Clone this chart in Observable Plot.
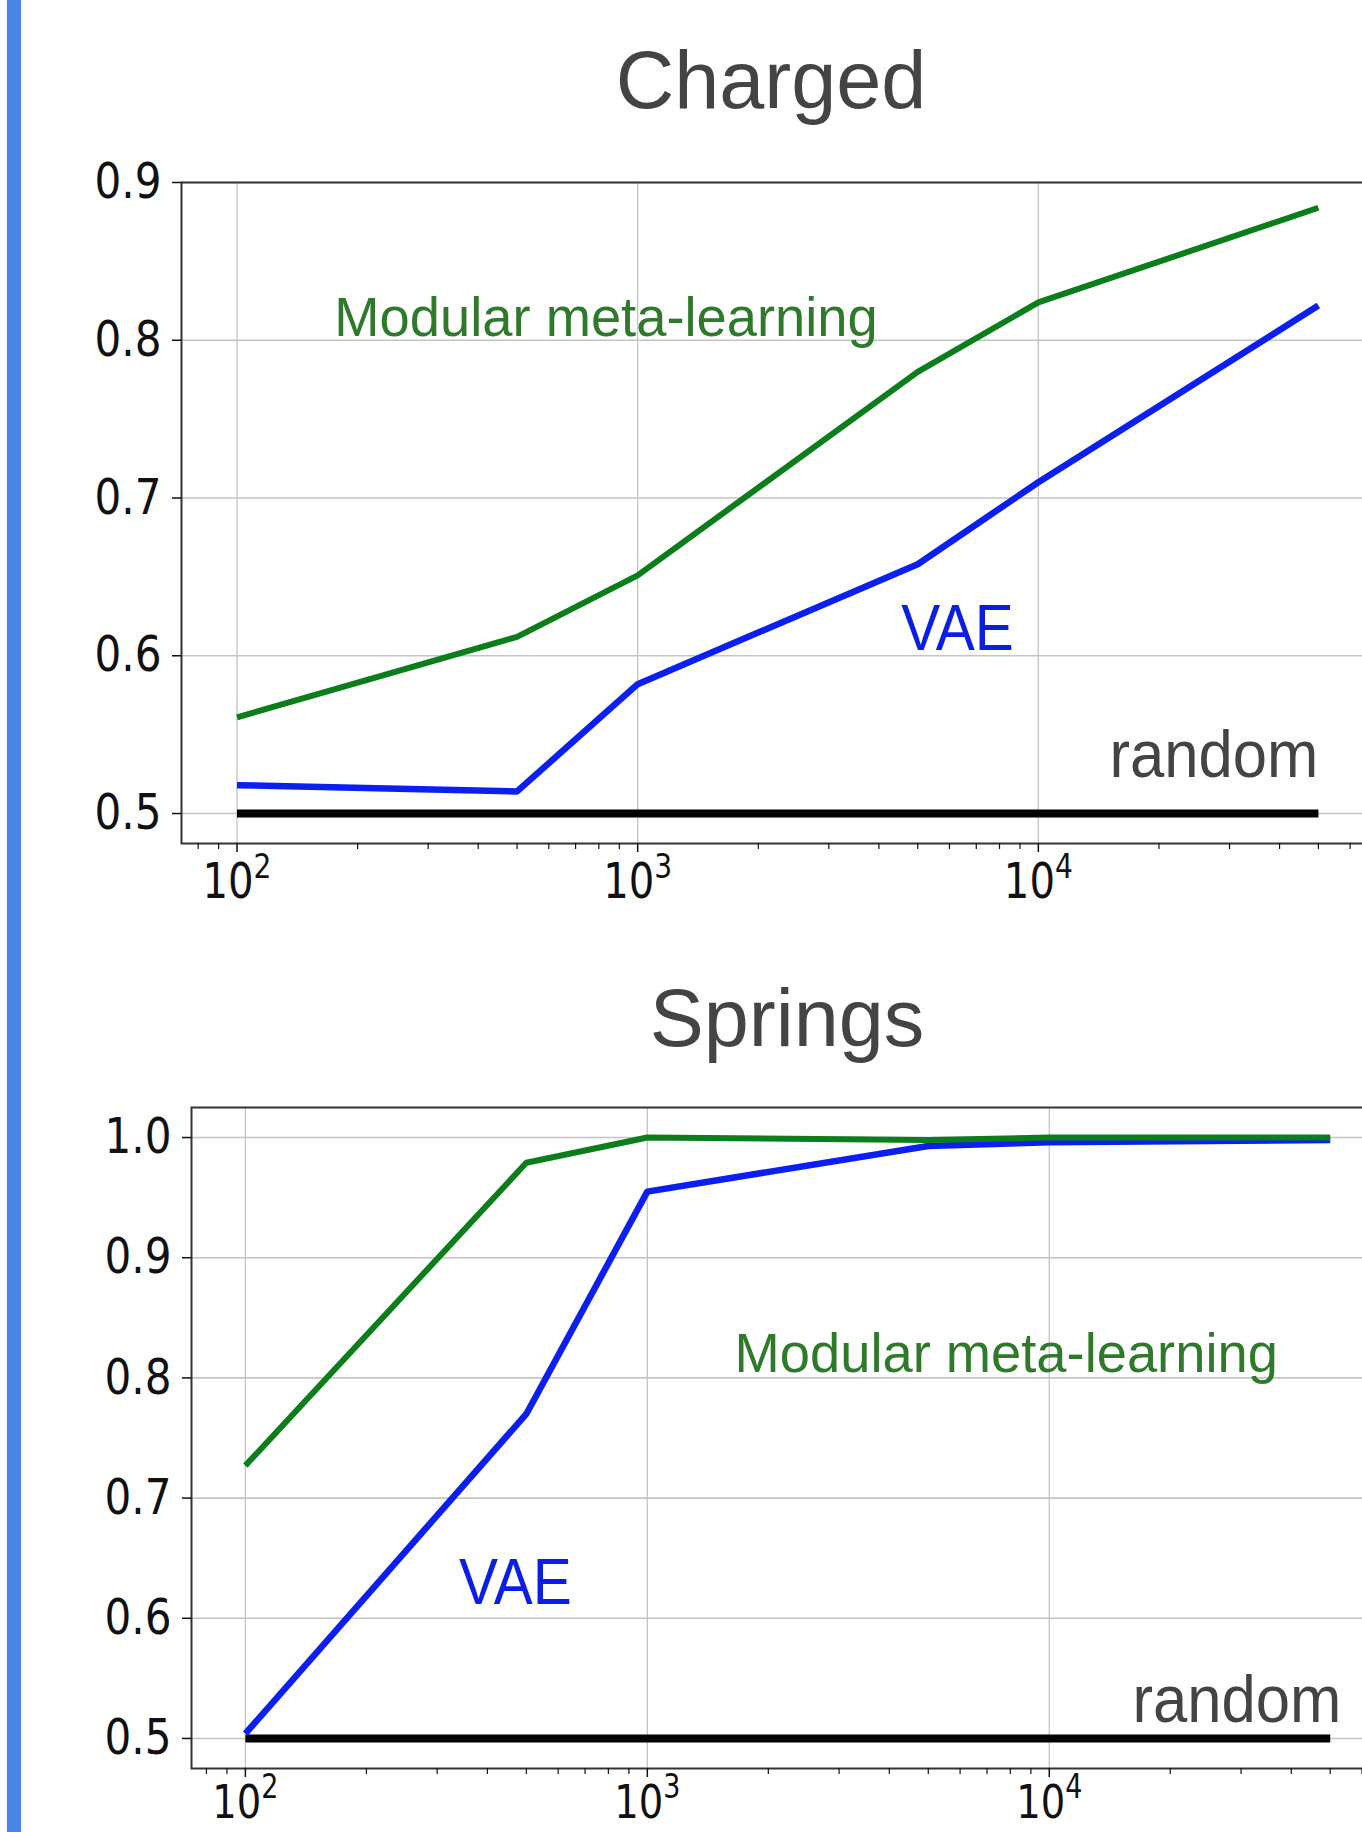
<!DOCTYPE html>
<html><head><meta charset="utf-8">
<script src="https://cdn.jsdelivr.net/npm/d3@7"></script>
<script src="https://cdn.jsdelivr.net/npm/@observablehq/plot@0.6"></script>
<style>
html,body{margin:0;padding:0;background:#fff;overflow:hidden;}
#page{position:relative;width:1362px;height:1832px;overflow:hidden;background:#fff;}
.bar{position:absolute;left:7px;top:0;width:14px;height:1832px;background:#4a86e8;}
.title{position:absolute;font-family:"Liberation Sans",Arial,sans-serif;font-size:81px;line-height:1;color:#444;white-space:nowrap;transform:translateX(-50%);}
.chart{position:absolute;left:0;width:1400px;}
.chart svg{max-width:none !important;}
</style></head>
<body><div id="page"><div class="bar"></div>
<div class="title" style="left:771px;top:40px">Charged</div>
<div class="title" style="left:787px;top:978px">Springs</div>
<div class="chart" id="c1" style="top:140px"></div>
<div class="chart" id="c2" style="top:1060px"></div>
</div>
<script>
// ---- data ----
const sampleSizes = [100, 500, 1000, 5000, 10000, 50000];
const xMajorTicks = [100, 1000, 10000];

const chargedModular = [0.561, 0.612, 0.651, 0.780, 0.824, 0.884];
const chargedVAE     = [0.518, 0.514, 0.582, 0.658, 0.710, 0.822];
const chargedRandom  = [0.5, 0.5, 0.5, 0.5, 0.5, 0.5];
const chargedYTicks  = [0.5, 0.6, 0.7, 0.8, 0.9];

const springsModular = [0.727, 0.979, 1.0, 0.998, 1.0, 1.0];
const springsVAE     = [0.504, 0.770, 0.955, 0.993, 0.996, 0.998];
const springsRandom  = [0.5, 0.5, 0.5, 0.5, 0.5, 0.5];
const springsYTicks  = [0.5, 0.6, 0.7, 0.8, 0.9, 1.0];

const labelTexts = ["Modular meta-learning", "VAE", "random"];
const chargedLabelN = [175, 4546, 50000];
const chargedLabelV = [0.803, 0.6035, 0.523];
const springsLabelN = [1648, 340, 53300];
const springsLabelV = [0.805, 0.6116, 0.514];

// ---- drawing ----
const GREEN = "#0b7d1a", BLUE = "#0b1ff0", LGREEN = "#2f7a2a", LBLUE = "#0a1ee6";
const ns = "http://www.w3.org/2000/svg";

function squeeze(t, sx) {
  const tr = t.getAttribute("transform") || "";
  t.setAttribute("transform", tr + ` scale(${sx},1)`);
}

function makeChart(cfg) {
  const rows = vals => sampleSizes.map((n, i) => ({n, v: vals[i]}));
  const xd = cfg.xLog.map(e => 10 ** e);
  const minor = [];
  for (let k = 1; k <= 4; k++) for (let m = 2; m <= 9; m++) {
    const v = m * 10 ** k; if (v > xd[0] && v < xd[1]) minor.push(v);
  }
  const lab = i => [{n: cfg.labelN[i], v: cfg.labelV[i], t: labelTexts[i]}];
  const lf = "Liberation Sans, Arial, sans-serif";
  const plot = Plot.plot({
    width: 1400, height: cfg.height,
    marginLeft: cfg.ml, marginRight: cfg.mr, marginTop: cfg.mt, marginBottom: cfg.mb,
    style: {background: "transparent", color: "#111", fontFamily: "DejaVu Sans, sans-serif", fontSize: "49px", overflow: "visible", maxWidth: "none"},
    x: {type: "log", domain: xd},
    y: {domain: cfg.yDomain},
    marks: [
      Plot.gridY({ticks: cfg.yTicks, stroke: "#c4c4c4", strokeOpacity: 1, strokeWidth: 1.6}),
      Plot.gridX({ticks: xMajorTicks, stroke: "#c4c4c4", strokeOpacity: 1, strokeWidth: 1.3}),
      Plot.line(rows(cfg.random), {x: "n", y: "v", stroke: "#000", strokeWidth: 8, strokeLinecap: "butt"}),
      Plot.line(rows(cfg.vae), {x: "n", y: "v", stroke: BLUE, strokeWidth: 6.5, strokeLinejoin: "round", strokeLinecap: "butt"}),
      Plot.line(rows(cfg.modular), {x: "n", y: "v", stroke: GREEN, strokeWidth: 6, strokeLinejoin: "round", strokeLinecap: "butt"}),
      Plot.text(lab(0), {x: "n", y: "v", text: "t", fill: LGREEN, fontSize: 56, fontFamily: lf, textAnchor: "start", lineAnchor: "bottom"}),
      Plot.text(lab(1), {x: "n", y: "v", text: "t", fill: LBLUE, fontSize: 65, fontFamily: lf, textAnchor: "start", lineAnchor: "bottom"}),
      Plot.text(lab(2), {x: "n", y: "v", text: "t", fill: "#444", fontSize: 67, fontFamily: lf, textAnchor: "end", lineAnchor: "bottom"}),
      Plot.frame({stroke: "#333", strokeWidth: 2}),
      Plot.axisY({ticks: cfg.yTicks, tickSize: 9, tickPadding: 11, fontSize: 49, tickFormat: d3.format(".1f"), strokeWidth: 1.5, label: null}),
      Plot.axisX({ticks: xMajorTicks, tickSize: 9, tickPadding: cfg.xPad, fontSize: cfg.xFont, tickFormat: d => String(Math.round(Math.log10(d))), strokeWidth: 1.5, label: null}),
      Plot.axisX({ticks: minor, tickSize: 6, tickFormat: () => "", strokeWidth: 1.2, label: null})
    ]
  });
  plot.style.maxWidth = "none";
  plot.querySelectorAll('g[aria-label="x-axis tick label"] text').forEach(t => {
    const e = t.textContent; if (!e) return;
    t.textContent = "";
    const a = document.createElementNS(ns, "tspan"); a.textContent = "10";
    const b = document.createElementNS(ns, "tspan"); b.textContent = e;
    b.setAttribute("dy", "-20"); b.setAttribute("font-size", "0.7em");
    t.append(a, b);
    squeeze(t, 0.82);
  });
  plot.querySelectorAll('g[aria-label="y-axis tick label"] text').forEach(t => squeeze(t, 0.86));
  plot.querySelectorAll('g[aria-label="text"] text').forEach(t => {
    const s = t.textContent;
    squeeze(t, s === "VAE" ? 0.9 : s === "random" ? 0.92 : 0.97);
  });
  return plot;
}

document.getElementById("c1").append(makeChart({
  modular: chargedModular, vae: chargedVAE, random: chargedRandom, yTicks: chargedYTicks,
  labelN: chargedLabelN, labelV: chargedLabelV,
  xLog: [1.8615, 4.834], yDomain: [0.481, 0.9],
  height: 773, ml: 181, mr: 28, mt: 42, mb: 70, xPad: 11, xFont: 49
}));
document.getElementById("c2").append(makeChart({
  modular: springsModular, vae: springsVAE, random: springsRandom, yTicks: springsYTicks,
  labelN: springsLabelN, labelV: springsLabelV,
  xLog: [1.866, 4.834], yDomain: [0.475, 1.025],
  height: 780, ml: 191, mr: 16, mt: 47, mb: 72, xPad: 7, xFont: 47
}));
</script>
</body></html>
